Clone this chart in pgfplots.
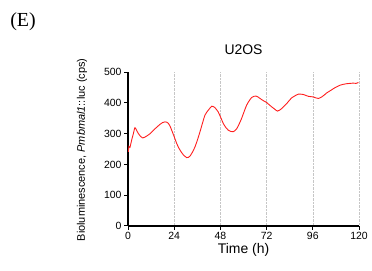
\documentclass[border=0pt]{standalone}
\usepackage{pgfplots}
\pgfplotsset{compat=1.18}
\usepackage{fontspec}
\setmainfont{Liberation Sans}
\newfontfamily\seriffont{Liberation Serif}
\definecolor{trace}{RGB}{255,30,30}
\begin{document}
\begin{tikzpicture}
\useasboundingbox (0,0) rectangle (372bp,271bp);
\node[font=\seriffont\fontsize{20}{20}\selectfont] at (23bp,249bp) {(E)};
\begin{axis}[
  at={(128bp,45bp)}, anchor=south west,
  scale only axis, width=231bp, height=154bp,
  xmin=0, xmax=120, ymin=0, ymax=500,
  xtick={0,24,48,72,96,120}, ytick={0,100,200,300,400,500},
  axis lines=left, axis line style={line width=1.1bp, -},
  tick style={line width=1bp, black}, tick align=outside, major tick length=4bp,
  xmajorgrids, major x grid style={densely dotted, gray!45, line width=0.5bp},
  /pgf/number format/assume math mode=true,
  ticklabel style={font=\fontsize{10.5}{10.5}\selectfont},
  xticklabel style={yshift=1bp},
  yticklabel style={xshift=1bp},
  title={U2OS}, title style={font=\fontsize{14}{14}\selectfont, at={(axis description cs:0.5,1.104)}, anchor=center},
  xlabel={Time (h)}, xlabel style={font=\fontsize{14}{14}\selectfont, at={(axis description cs:0.5,-0.156)}, anchor=center},
  ylabel={Bioluminescence, \textit{Pmbmal1}::luc (cps)}, ylabel style={font=\fontsize{11}{11}\selectfont, at={(axis description cs:-0.199,0.494)}, anchor=center, rotate=0},
  clip=false,
]
\addplot[trace, line width=0.9bp, smooth, mark=none] coordinates {
(0.2,241) (0.5,258) (1.0,255) (1.9,279) (2.8,300) (3.6,319) (4.5,310) (5.4,300) (6.5,291) (7.6,286) (8.6,288) (9.7,292)
(11.5,300) (13.2,311) (15.0,321) (16.6,330) (18.0,336) (19.2,338) (20.2,337) (21.0,333) (22.0,322) (22.7,311)
(24.0,290) (25.3,268) (26.6,251) (27.9,238) (29.2,228) (30.5,222) (31.4,223) (32.2,227) (33.5,240) (34.8,257)
(36.1,280) (37.4,306) (38.7,334) (40.0,360) (41.7,376) (43.5,389) (44.3,388) (45.2,384) (46.0,378) (46.9,370)
(48.2,352) (49.5,333) (50.8,320) (52.1,311) (53.4,307) (54.7,306) (55.6,310) (56.5,316) (57.8,332) (59.0,349)
(60.3,371) (61.6,392) (62.9,406) (64.2,417) (65.4,421) (66.5,422) (67.5,419) (68.6,414) (70.3,407) (72.0,401)
(73.3,394) (74.6,387) (76.1,380) (77.6,373) (78.7,376) (79.8,381) (81.1,389) (82.4,397) (83.7,407) (85.0,416)
(86.8,423) (88.5,428) (89.8,428) (91.1,427) (92.4,424) (93.7,421) (95.0,420) (96.3,419) (97.6,416) (98.9,414)
(99.7,416) (100.6,419) (101.9,425) (103.2,432) (105.0,439) (106.7,446) (108.4,452) (110.1,457) (111.8,460)
(113.6,462) (115.3,463) (117.0,464) (118.4,463) (119.7,466)
};
\end{axis}
\end{tikzpicture}
\end{document}
